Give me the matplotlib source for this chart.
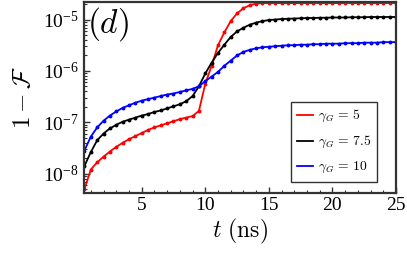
import matplotlib
matplotlib.use("Agg")
import matplotlib.pyplot as plt
import numpy as np
from matplotlib.ticker import MultipleLocator, LogLocator, NullFormatter

plt.rcParams['mathtext.fontset'] = 'cm'
plt.rcParams['font.family'] = 'serif'
plt.rcParams['font.serif'] = ['Liberation Serif', 'DejaVu Serif']

# time grid (ns) and log10(1 - F)
t_ns = [0.5, 1.0, 1.5, 2.0, 2.5, 3.0, 3.5, 4.0, 4.5, 5.0,
        5.5, 6.0, 6.5, 7.0, 7.5, 8.0, 8.5, 9.0, 9.5, 10.0,
        10.5, 11.0, 11.5, 12.0, 12.5, 13.0, 13.5, 14.0, 14.5, 15.0,
        15.5, 16.0, 16.5, 17.0, 17.5, 18.0, 18.5, 19.0, 19.5, 20.0,
        20.5, 21.0, 21.5, 22.0, 22.5, 23.0, 23.5, 24.0, 24.5, 25.0]

log_red = [-8.30, -7.92, -7.78, -7.67, -7.57, -7.48, -7.40, -7.33, -7.27, -7.21,
           -7.15, -7.10, -7.06, -7.02, -6.98, -6.94, -6.91, -6.88, -6.78, -6.25,
           -5.90, -5.50, -5.25, -5.03, -4.88, -4.78, -4.72, -4.69, -4.68, -4.68,
           -4.68, -4.68, -4.68, -4.68, -4.68, -4.68, -4.68, -4.68, -4.68, -4.68,
           -4.68, -4.68, -4.68, -4.68, -4.68, -4.68, -4.68, -4.68, -4.68, -4.68]

log_black = [-7.85, -7.58, -7.35, -7.22, -7.12, -7.05, -6.99, -6.95, -6.91, -6.87,
             -6.84, -6.80, -6.77, -6.73, -6.69, -6.65, -6.59, -6.49, -6.30, -6.05,
             -5.84, -5.65, -5.49, -5.34, -5.23, -5.16, -5.10, -5.06, -5.03, -5.01,
             -5.00, -4.99, -4.985, -4.98, -4.975, -4.97, -4.97, -4.965, -4.965, -4.96,
             -4.96, -4.96, -4.955, -4.955, -4.955, -4.95, -4.95, -4.95, -4.95, -4.95]

log_blue = [-7.55, -7.28, -7.10, -6.97, -6.87, -6.79, -6.72, -6.67, -6.62, -6.58,
            -6.55, -6.52, -6.49, -6.46, -6.44, -6.41, -6.38, -6.35, -6.30, -6.20,
            -6.11, -6.02, -5.90, -5.80, -5.70, -5.63, -5.59, -5.56, -5.54, -5.53,
            -5.52, -5.51, -5.50, -5.50, -5.49, -5.49, -5.48, -5.48, -5.47, -5.47,
            -5.47, -5.46, -5.46, -5.46, -5.45, -5.45, -5.45, -5.44, -5.44, -5.44]

labels = [r'$\gamma_G \,=\, 5$', r'$\gamma_G \,=\, 7.5$', r'$\gamma_G \,=\, 10$']
colors = ['red', 'black', 'blue']


def main():
    fig = plt.figure(figsize=(4.07, 2.61), dpi=100)
    ax = fig.add_axes([0.206, 0.262, 0.767, 0.73])

    for ys, c, lab in zip([log_red, log_black, log_blue], colors, labels):
        ax.plot(t_ns, 10.0 ** np.array(ys), color=c, lw=1.3, marker='o',
                ms=1.8, label=lab)

    ax.set_yscale('log')
    ax.set_xlim(0.45, 25)
    ax.set_ylim(10 ** -8.37, 10 ** -4.66)

    ax.xaxis.set_major_locator(MultipleLocator(5))
    ax.xaxis.set_minor_locator(MultipleLocator(1))
    ax.yaxis.set_major_locator(LogLocator(base=10, numticks=10))
    ax.yaxis.set_minor_locator(LogLocator(base=10, subs=np.arange(2, 10), numticks=20))
    ax.yaxis.set_minor_formatter(NullFormatter())

    ax.tick_params(which='both', direction='in', top=False, right=False,
                   labelsize=14, colors='#333333', labelcolor='black')
    ax.tick_params(which='major', length=4, width=1)
    ax.tick_params(which='minor', length=2, width=0.8)
    for sp in ax.spines.values():
        sp.set_linewidth(1.6)
        sp.set_color('#333333')

    ax.set_xlabel(r'$t\ \mathrm{(ns)}$', fontsize=17, labelpad=2)
    ax.set_ylabel(r'$1-\mathcal{F}$', fontsize=18, labelpad=6)
    ax.text(0.01, 0.985, r'$(d)$', transform=ax.transAxes, fontsize=24,
            va='top', ha='left')

    leg = ax.legend(loc='lower right', fontsize=9.8, frameon=True, fancybox=False,
                    edgecolor='black', handlelength=1.2, borderpad=0.45,
                    labelspacing=0.72, handletextpad=0.35, borderaxespad=0,
                    bbox_to_anchor=(0.94, 0.058))
    leg.get_frame().set_linewidth(1.0)
    for h in leg.legend_handles:
        h.set_marker('')

    fig.savefig('out.png', dpi=100)


if __name__ == '__main__':
    main()
